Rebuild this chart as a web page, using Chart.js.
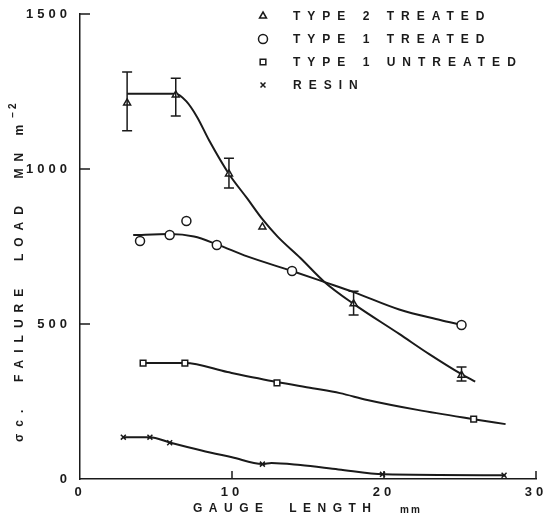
<!DOCTYPE html>
<html>
<head>
<meta charset="utf-8">
<script src="https://cdn.jsdelivr.net/npm/chart.js@4.4.1/dist/chart.umd.min.js"></script>
<style>
html, body { margin: 0; padding: 0; background: #fff; }
#wrap { width: 549px; height: 524px; position: relative; }
</style>
</head>
<body>
<div id="wrap"><canvas id="chart"></canvas></div>
<script>
"use strict";
// measured points (x = gauge length mm, y = failure load MN m^-2)
const t2x = [3.1, 6.3, 9.8, 12.0, 18.0, 25.1];
const t2y = [1213, 1239, 984, 813, 565, 335];
const t2hi = [1313, 1293, 1035, null, 606, 361];
const t2lo = [1123, 1171, 939, null, 529, 316];
const t1x = [3.95, 5.9, 7.0, 9.0, 13.95, 25.1];
const t1y = [768, 787, 832, 755, 671, 497];
const u1x = [4.15, 6.9, 12.96, 25.9];
const u1y = [374, 374, 310, 193];
const rx = [2.85, 4.6, 5.9, 12.0, 19.9, 27.9];
const ry = [135, 135, 117, 48, 15, 12];
// hand drawn curves
const t2cx = [3.1, 6.3, 7.0, 7.7, 8.5, 9.8, 11, 12, 13, 14.5, 16.1, 18, 21, 23, 25.1, 26];
const t2cy = [1243, 1243, 1218, 1168, 1092, 984, 905, 838, 782, 713, 635, 565, 468, 402, 338, 314];
const t1cx = [3.5, 5.9, 7.5, 9, 11, 13.95, 16.1, 18, 21, 23.7, 25.1];
const t1cy = [787, 790, 782, 757, 718, 671, 635, 603, 547, 513, 497];
const u1cx = [4.15, 6.9, 9.7, 12.96, 15.3, 17.1, 18.9, 22.2, 25.9, 28];
const u1cy = [374, 374, 345, 313, 293, 277, 255, 223, 193, 177];
const rcx = [2.85, 4.6, 5.9, 8, 10, 12, 12.6, 14.5, 17, 20, 28];
const rcy = [135, 135, 118, 92, 70, 48, 52, 45, 31, 15, 12];

const labels = ["TYPE 2 TREATED", "TYPE 1 TREATED", "TYPE 1 UNTREATED", "RESIN"];
const xTicks = [10, 20, 30];
const yTicks = [500, 1000, 1500];

const INK = "#1a1a1a";
const FAMILY = "'Liberation Sans', Arial, sans-serif";
const FONT = "bold 12px " + FAMILY;

function pts(xs, ys) {
    return xs.map((x, i) => ({ x: x, y: ys[i] }));
}
function markerSet(label, xs, ys, style, r) {
    return {
        label: label,
        data: pts(xs, ys),
        showLine: false,
        pointStyle: style,
        pointRadius: r,
        pointBorderWidth: 1.5,
        pointBackgroundColor: "#fff",
        pointBorderColor: INK,
        order: 0
    };
}
function curveSet(xs, ys) {
    return {
        label: "",
        data: pts(xs, ys),
        showLine: true,
        borderColor: INK,
        borderWidth: 2,
        pointRadius: 0,
        cubicInterpolationMode: "monotone",
        order: 1
    };
}

const styles = ["triangle", "circle", "rect", "crossRot"];

const spacingPlugin = {
    id: "spacing",
    beforeDraw(chart) { chart.ctx.letterSpacing = "4px"; },
    afterDraw(chart) { chart.ctx.letterSpacing = "0px"; }
};

const errorBars = {
    id: "errorBars",
    afterDatasetsDraw(chart) {
        const ctx = chart.ctx;
        const xs = chart.scales.x, ys = chart.scales.y;
        ctx.save();
        ctx.strokeStyle = INK;
        ctx.lineWidth = 1.5;
        for (let i = 0; i < t2x.length; i++) {
            if (t2hi[i] === null) continue;
            const px = xs.getPixelForValue(t2x[i]);
            const top = ys.getPixelForValue(t2hi[i]);
            const bot = ys.getPixelForValue(t2lo[i]);
            ctx.beginPath();
            ctx.moveTo(px, top); ctx.lineTo(px, bot);
            ctx.moveTo(px - 5, top); ctx.lineTo(px + 5, top);
            ctx.moveTo(px - 5, bot); ctx.lineTo(px + 5, bot);
            ctx.stroke();
        }
        ctx.restore();
    }
};

const decorations = {
    id: "decorations",
    afterDraw(chart) {
        const ctx = chart.ctx;
        const xs = chart.scales.x, ys = chart.scales.y;
        const area = chart.chartArea;
        ctx.save();
        ctx.strokeStyle = INK;
        ctx.lineWidth = 1.5;
        // inward tick marks
        ctx.beginPath();
        for (const v of yTicks) {
            const py = ys.getPixelForValue(v);
            ctx.moveTo(area.left, py); ctx.lineTo(area.left + 10, py);
        }
        for (const v of xTicks) {
            const px = xs.getPixelForValue(v);
            ctx.moveTo(px, area.bottom); ctx.lineTo(px, area.bottom - 8);
        }
        ctx.stroke();

        // legend
        ctx.fillStyle = INK;
        ctx.font = FONT;
        ctx.textBaseline = "middle";
        ctx.textAlign = "left";
        ctx.letterSpacing = "7px";
        const legY = [16, 39, 62, 85];
        const radii = [4, 4.5, 4, 3.5];
        for (let i = 0; i < labels.length; i++) {
            ctx.lineWidth = 1.5;
            ctx.fillStyle = "#fff";
            Chart.helpers.drawPoint(ctx, { pointStyle: styles[i], radius: radii[i], borderWidth: 1.5, rotation: 0 }, 263, legY[i]);
            ctx.fillStyle = INK;
            ctx.fillText(labels[i], 293, legY[i] + 1);
        }

        // x title
        ctx.letterSpacing = "6.5px";
        ctx.fillText("GAUGE  LENGTH", 193, 509);
        ctx.letterSpacing = "2px";
        ctx.font = "bold 10px " + FAMILY;
        ctx.fillText("mm", 400, 510);

        // y title
        ctx.translate(20, 442);
        ctx.rotate(-Math.PI / 2);
        ctx.font = FONT;
        ctx.letterSpacing = "7px";
        const main = "\u03c3c.  FAILURE  LOAD  MN m";
        ctx.fillText(main, 0, 0);
        const w = ctx.measureText(main).width;
        ctx.font = "bold 10px " + FAMILY;
        ctx.letterSpacing = "3px";
        ctx.fillText("\u22122", w, -7);
        ctx.restore();
    }
};

const tickFont = { family: FAMILY, size: 13, weight: "bold" };

new Chart(document.getElementById("chart"), {
    type: "scatter",
    data: {
        datasets: [
            markerSet(labels[0], t2x, t2y, styles[0], 4),
            markerSet(labels[1], t1x, t1y, styles[1], 4.5),
            markerSet(labels[2], u1x, u1y, styles[2], 4),
            markerSet(labels[3], rx, ry, styles[3], 3.5),
            curveSet(t2cx, t2cy),
            curveSet(t1cx, t1cy),
            curveSet(u1cx, u1cy),
            curveSet(rcx, rcy)
        ]
    },
    options: {
        responsive: true,
        maintainAspectRatio: false,
        animation: false,
        layout: { padding: { top: 14, right: 13, left: 0, bottom: 0 } },
        plugins: { legend: { display: false }, tooltip: { enabled: false } },
        scales: {
            x: {
                type: "linear",
                min: 0, max: 30,
                grid: { display: false },
                border: { display: true, color: INK, width: 1.5 },
                ticks: { stepSize: 10, padding: -2, color: INK, font: tickFont, callback: (v) => String(v) },
                afterFit: (s) => { s.height = 45; }
            },
            y: {
                min: 0, max: 1500,
                grid: { display: false },
                border: { display: true, color: INK, width: 1.5 },
                ticks: { stepSize: 500, padding: 1, color: INK, font: tickFont, callback: (v) => String(v) },
                afterFit: (s) => { s.width = 80; }
            }
        }
    },
    plugins: [spacingPlugin, errorBars, decorations]
});
</script>
</body>
</html>
